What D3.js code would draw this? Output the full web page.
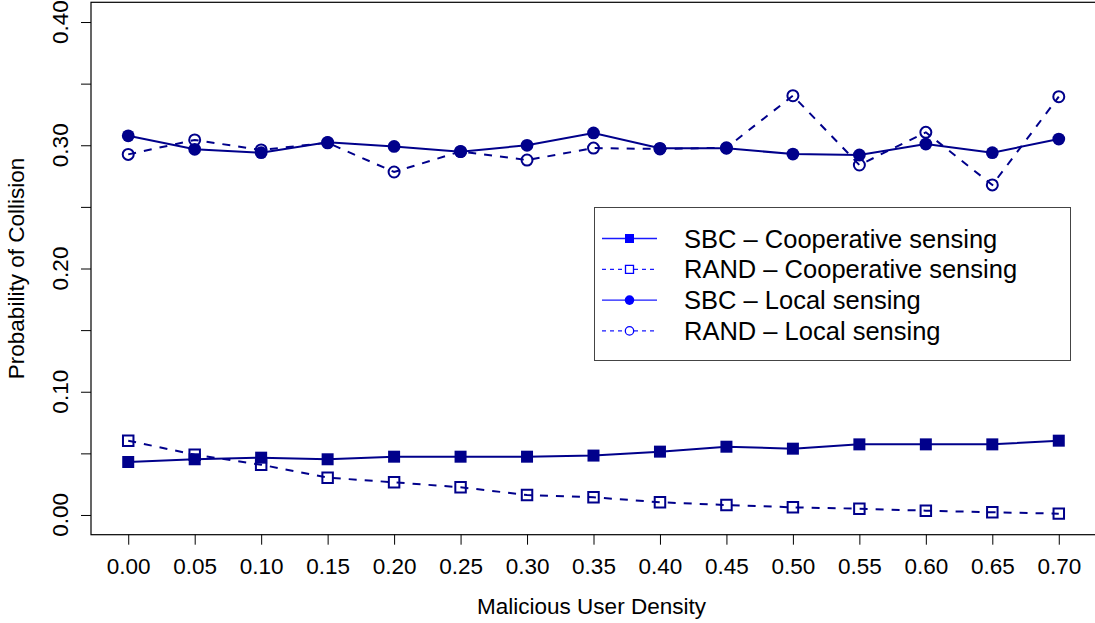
<!DOCTYPE html>
<html>
<head>
<meta charset="utf-8">
<script src="https://cdn.jsdelivr.net/npm/d3@7"></script>
<style>
  body { margin: 0; background: #fff; }
  svg { display: block; font-family: "Liberation Sans", Arial, sans-serif; }
</style>
</head>
<body>
<div id="chart"></div>
<script>
const density = [0, 0.05, 0.1, 0.15, 0.2, 0.25, 0.3, 0.35, 0.4, 0.45, 0.5, 0.55, 0.6, 0.65, 0.7];
const sbcCoop = [0.043, 0.0452, 0.0465, 0.0452, 0.0473, 0.0473, 0.0473, 0.0482, 0.0514, 0.0554, 0.0538, 0.0573, 0.0573, 0.0573, 0.0603];
const randCoop = [0.0603, 0.0489, 0.0408, 0.0303, 0.0265, 0.0225, 0.0162, 0.0144, 0.0103, 0.0081, 0.0062, 0.0051, 0.0035, 0.0022, 0.0011];
const sbcLocal = [0.3077, 0.2967, 0.294, 0.3024, 0.299, 0.2948, 0.300, 0.310, 0.2975, 0.2975, 0.2929, 0.2921, 0.301, 0.294, 0.305];
const randLocal = [0.2926, 0.3043, 0.2962, 0.302, 0.2783, 0.295, 0.288, 0.2977, 0.297, 0.298, 0.3402, 0.284, 0.3105, 0.2678, 0.3394];
const xTicks = [0, 0.05, 0.1, 0.15, 0.2, 0.25, 0.3, 0.35, 0.4, 0.45, 0.5, 0.55, 0.6, 0.65, 0.7];
const yTicks = [0, 0.05, 0.1, 0.15, 0.2, 0.25, 0.3, 0.35, 0.4];
const yLabels = [0, 0.1, 0.2, 0.3, 0.4];
const legendNames = ["SBC \u2013 Cooperative sensing", "RAND \u2013 Cooperative sensing", "SBC \u2013 Local sensing", "RAND \u2013 Local sensing"];

const width = 1095, height = 623;
const box = { left: 91, right: 1096, top: 2.3, bottom: 534.7 };
const col = "#00008B";
const fontSize = 22.5;

const svg = d3.select("#chart").append("svg")
  .attr("width", width).attr("height", height);

const x = d3.scaleLinear().domain([-0.028, 0.728]).range([box.left, box.right]);
const y = d3.scaleLinear().domain([-0.016, 0.416]).range([box.bottom, box.top]);

// plot frame
svg.append("rect")
  .attr("x", box.left).attr("y", box.top)
  .attr("width", box.right - box.left).attr("height", box.bottom - box.top)
  .attr("fill", "none").attr("stroke", "#000").attr("stroke-width", 1.2);

// x axis
const gx = svg.append("g")
  .attr("transform", `translate(0,${box.bottom})`)
  .call(d3.axisBottom(x).tickValues(xTicks).tickSize(10).tickPadding(13.6).tickFormat(d3.format(".2f")));
gx.select(".domain").remove();
gx.selectAll("line").attr("stroke", "#000");
gx.selectAll("text").attr("font-size", fontSize).attr("font-family", "Liberation Sans, Arial, sans-serif").attr("fill", "#000");

// y axis, labels only every 0.10
const gy = svg.append("g")
  .attr("transform", `translate(${box.left},0)`)
  .call(d3.axisLeft(y).tickValues(yTicks).tickSize(10).tickFormat(""));
gy.select(".domain").remove();
gy.selectAll("line").attr("stroke", "#000");
svg.selectAll(".ylab")
  .data(yLabels).enter().append("text")
  .attr("class", "ylab")
  .attr("transform", d => `translate(${box.left - 23},${y(d)}) rotate(-90)`)
  .attr("text-anchor", "middle")
  .attr("font-size", fontSize)
  .attr("fill", "#000")
  .text(d3.format(".2f"));

// axis titles
svg.append("text")
  .attr("x", (box.left + box.right) / 2 - 2).attr("y", 614)
  .attr("text-anchor", "middle").attr("font-size", fontSize)
  .text("Malicious User Density");
svg.append("text")
  .attr("transform", `translate(24,${(box.top + box.bottom) / 2}) rotate(-90)`)
  .attr("text-anchor", "middle").attr("font-size", fontSize)
  .text("Probability of Collision");

const line = d3.line().x((d, i) => x(density[i])).y(d => y(d));

function drawSeries(values, dashed, shape, filled) {
  const g = svg.append("g");
  g.append("path")
    .datum(values)
    .attr("d", line)
    .attr("fill", "none")
    .attr("stroke", col)
    .attr("stroke-width", 2)
    .attr("stroke-dasharray", dashed ? "8,8" : null);
  const sym = d3.symbol().type(shape === "square" ? d3.symbolSquare : d3.symbolCircle)
    .size(shape === "square" ? (filled ? 144 : 110) : (filled ? 128 : 95));
  g.selectAll("path.pt")
    .data(values).enter().append("path")
    .attr("class", "pt")
    .attr("d", sym)
    .attr("transform", (d, i) => `translate(${x(density[i])},${y(d)})`)
    .attr("fill", filled ? col : "none")
    .attr("stroke", col)
    .attr("stroke-width", filled ? 0 : 2);
}

drawSeries(randCoop, true, "square", false);
drawSeries(sbcCoop, false, "square", true);
drawSeries(randLocal, true, "circle", false);
drawSeries(sbcLocal, false, "circle", true);

// legend
const legend = svg.append("g");
legend.append("rect")
  .attr("x", 594.5).attr("y", 207.5).attr("width", 476).attr("height", 153)
  .attr("fill", "#fff").attr("stroke", "#444").attr("stroke-width", 1);

const legendStyle = [
  { dashed: false, shape: "square", filled: true },
  { dashed: true, shape: "square", filled: false },
  { dashed: false, shape: "circle", filled: true },
  { dashed: true, shape: "circle", filled: false }
];
legendNames.forEach((name, i) => {
  const ly = 238.5 + i * 30.8;
  const st = legendStyle[i];
  const row = legend.append("g").attr("transform", `translate(0,${ly})`);
  row.append("line")
    .attr("x1", 602).attr("x2", 657)
    .attr("stroke", "#1a1aff").attr("stroke-width", 1.3)
    .attr("stroke-dasharray", st.dashed ? "4,4" : null);
  const sym = d3.symbol().type(st.shape === "square" ? d3.symbolSquare : d3.symbolCircle)
    .size(st.shape === "square" ? (st.filled ? 81 : 64) : (st.filled ? 72 : 55));
  row.append("path")
    .attr("d", sym)
    .attr("transform", "translate(629.5,0)")
    .attr("fill", st.filled ? "#0000ff" : "#fff")
    .attr("stroke", "#0000ff")
    .attr("stroke-width", st.filled ? 0 : 1.3);
  row.append("text")
    .attr("x", 684).attr("y", 9)
    .attr("font-size", 25.5)
    .text(name);
});
</script>
</body>
</html>
